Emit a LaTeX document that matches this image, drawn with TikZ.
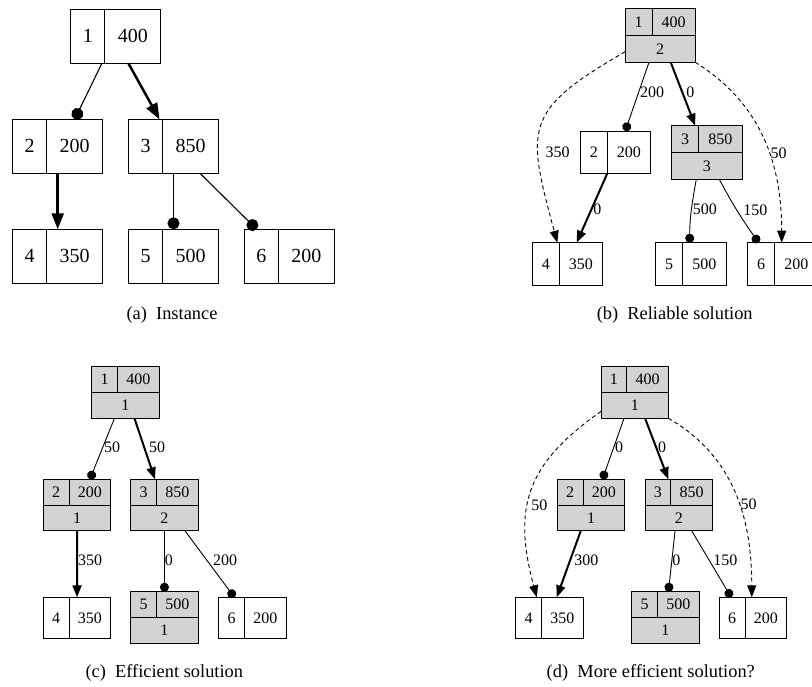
\documentclass[tikz,border=0pt]{standalone}
\usepackage{fontspec}
\setmainfont{Liberation Serif}
\usetikzlibrary{positioning, arrows.meta}

\definecolor{solgray}{HTML}{D3D3D3}

\tikzset{
  cell/.style 2 args={draw, line width=0.9pt, outer sep=0pt, inner sep=0pt,
    minimum width=#1, minimum height=#2, font=\fontsize{16}{19}\selectfont},
  used/.style={fill=solgray},
  link/.style={line width=0.9pt, -{Circle[length=9pt]}},
  pick/.style={line width=2pt, -{Triangle[length=12pt, width=9pt]}},
  spare/.style={line width=0.9pt, dash pattern=on 4pt off 3pt, -{Triangle[length=12pt, width=9pt]}},
  cost/.style={right, inner sep=1pt, font=\fontsize{16}{19}\selectfont},
  caption/.style={font=\fontsize{18.4}{22}\selectfont},
}

\begin{document}
\begin{tikzpicture}[x=1pt, y=-1pt]
    \path[use as bounding box] (0,0) rectangle (812,687);

    % (a) Instance
    \begin{scope}[link/.append style={line width=1.1pt, -{Circle[length=12pt]}},
                  pick/.append style={line width=2.5pt, -{Triangle[length=16pt, width=12pt]}}]
        \foreach \n/\x/\y/\w in {1/87.9/36.3/400, 2/29.7/146.3/200, 3/145.5/146.3/850,
                                 4/29.7/256.3/350, 5/145.5/256.3/500, 6/261.3/256.3/200}
        {
            \node[cell={34pt}{54pt}, line width=1.1pt, font=\fontsize{20}{24}\selectfont] (a\n) at (\x,\y) {\n};
            \node[cell={56pt}{54pt}, line width=1.1pt, font=\fontsize{20}{24}\selectfont, right=0pt of a\n] (aw\n) {\w};
        }

        \draw[link] ([xshift=-3pt]a1.south east) -- (aw2.north);
        \draw[pick] ([xshift=-4.5pt]aw1.south) -- ([xshift=-3pt]a3.north east);
        \draw[pick] ([xshift=11pt]aw2.south west) -- ([xshift=11pt]aw4.north west);
        \draw[link] ([xshift=11pt]aw3.south west) -- ([xshift=11pt]aw5.north west);
        \draw[link] ([xshift=9.5pt]aw3.south) -- ([xshift=-4.6pt]a6.north);
    \end{scope}
    \node[caption] (capa) at (172,315) {(a)\enspace Instance};

    % (b) Reliable solution
    \foreach \n/\x/\y/\w/\s in {1/638.5/21.8/400/2, 3/685.2/139.2/850/3}
    {
        \node[cell={27pt}{27pt}, used] (b\n) at (\x,\y) {\n};
        \node[cell={43.3pt}{27pt}, used, right=0pt of b\n] (bw\n) {\w};
        \node[cell={70.3pt}{27pt}, used, anchor=north west] (bs\n) at (b\n.south west) {\s};
    }
    \foreach \n/\x/\y/\w in {2/593.8/152.2/200, 4/545.8/263.9/350, 5/669.2/263.9/500, 6/761.2/263.9/200}
    {
        \node[cell={27pt}{42.4pt}] (b\n) at (\x,\y) {\n};
        \node[cell={43.3pt}{42.4pt}, right=0pt of b\n] (bw\n) {\w};
    }

    \draw[spare] ([yshift=-3pt]bs1.west) to[out=210, in=105, looseness=1.5]
        node[cost, pos=.65, right=6pt] {350} ([xshift=-2pt]b4.north east);
    \draw[link] ([xshift=24pt]bs1.south west) -- node[cost, pos=.44] {200} ([xshift=-3.7pt]bw2.north);
    \draw[pick] ([xshift=45.7pt]bs1.south west) -- node[cost, pos=.48, right=2pt] {0} ([xshift=-3.5pt]b3.north east);
    \draw[spare] (bs1.south east) to[out=-32, in=90] node[cost, pos=.58] {50} ([xshift=7pt]bw6.north west);
    \draw[pick] (b2.south east) -- node[cost, pos=.52] {0} ([xshift=17.4pt]bw4.north west);
    \draw[link] ([xshift=24.5pt]bs3.south west) to[out=-100, in=90]
        node[cost, pos=.47] {500} ([xshift=7pt]bw5.north west);
    \draw[link] ([xshift=47.8pt]bs3.south west) to[out=-62, in=125]
        node[cost, pos=.47, right=5pt] {150} ([xshift=-2.6pt]b6.north);
    \node[caption] (capb) at (674.7,315) {(b)\enspace Reliable solution};

    % (c) Efficient solution
    \foreach \n/\x/\y/\w/\s in {1/104.6/379.6/400/1, 2/56.2/492.2/200/1, 3/143.6/492.2/850/2, 5/143.6/604.6/500/1}
    {
        \node[cell={25.7pt}{25.8pt}, used] (c\n) at (\x,\y) {\n};
        \node[cell={41.7pt}{25.8pt}, used, right=0pt of c\n] (cw\n) {\w};
        \node[cell={67.4pt}{25.8pt}, used, anchor=north west] (cs\n) at (c\n.south west) {\s};
    }
    \foreach \n/\x/\y/\w in {4/56.2/617.8/350, 6/231.6/617.8/200}
    {
        \node[cell={25.7pt}{41pt}] (c\n) at (\x,\y) {\n};
        \node[cell={41.7pt}{41pt}, right=0pt of c\n] (cw\n) {\w};
    }

    \draw[link] ([xshift=-11pt]cs1.south) -- node[cost, pos=.475] {50} (cw2.north);
    \draw[pick] ([xshift=9pt]cs1.south) -- node[cost, pos=.475, right=3pt] {50} ([xshift=-1.5pt]c3.north east);
    \draw[pick] (cs2.south) -- node[cost, pos=.44, inner sep=0pt] {350} ([xshift=8pt]cw4.north west);
    \draw[link] (cs3.south) -- node[cost, pos=.48, inner sep=0pt] {0} ([xshift=8pt]cw5.north west);
    \draw[link] ([xshift=20.6pt]cs3.south) -- node[cost, pos=.437, right=5pt] {200} ([xshift=2.8pt]c6.north);
    \node[caption] (capc) at (164.3,673) {(c)\enspace Efficient solution};

    % (d) More efficient solution?
    \foreach \n/\x/\y/\w/\s in {1/613.9/379.6/400/1, 2/570.2/492.2/200/1, 3/657.9/492.2/850/2, 5/644.6/604.6/500/1}
    {
        \node[cell={25.7pt}{25.8pt}, used] (d\n) at (\x,\y) {\n};
        \node[cell={41.7pt}{25.8pt}, used, right=0pt of d\n] (dw\n) {\w};
        \node[cell={67.4pt}{25.8pt}, used, anchor=north west] (ds\n) at (d\n.south west) {\s};
    }
    \foreach \n/\x/\y/\w in {4/528.6/617.8/350, 6/732.2/617.8/200}
    {
        \node[cell={25.7pt}{41pt}] (d\n) at (\x,\y) {\n};
        \node[cell={41.7pt}{41pt}, right=0pt of d\n] (dw\n) {\w};
    }

    \draw[spare] ([yshift=-6pt]ds1.west) to[out=215, in=105, looseness=1.2]
        node[cost, pos=.58, right=2pt] {50} ([xshift=-4.7pt]d4.north east);
    \draw[link] ([xshift=-10.7pt]ds1.south) -- node[cost, pos=.475] {0} ([xshift=-1.5pt]dw2.north);
    \draw[pick] ([xshift=10.3pt]ds1.south) -- node[cost, pos=.475] {0} ([xshift=-2.4pt]d3.north east);
    \draw[spare] (ds1.south east) to[out=-30, in=90] node[cost, pos=.56] {50} ([xshift=6.7pt]dw6.north west);
    \draw[pick] ([xshift=-10.3pt]ds2.south) -- node[cost, pos=.437, right=2pt] {300} ([xshift=15.3pt]dw4.north west);
    \draw[link] ([xshift=-3.7pt]ds3.south) -- node[cost, pos=.478, inner sep=0pt] {0} ([xshift=11pt]dw5.north west);
    \draw[link] ([xshift=13pt]ds3.south) -- node[cost, pos=.437, right=3pt] {150} ([xshift=-1pt]d6.north);
    \node[caption] (capd) at (650.8,673) {(d)\enspace More efficient solution?};
\end{tikzpicture}
\end{document}
